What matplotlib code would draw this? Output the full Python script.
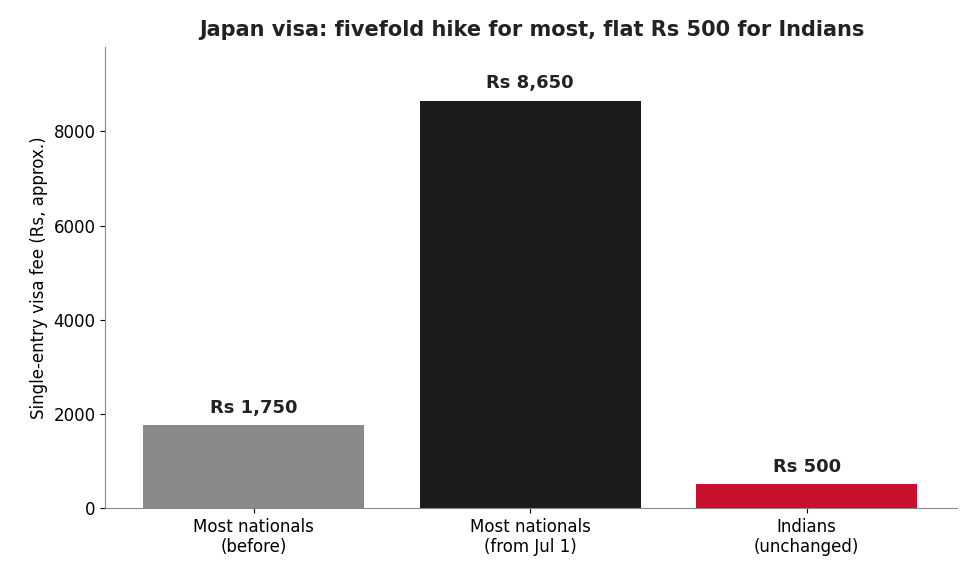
import matplotlib
matplotlib.use("Agg")
import matplotlib.pyplot as plt

categories = ["Most nationals\n(before)", "Most nationals\n(from Jul 1)", "Indians\n(unchanged)"]
values = [1750, 8650, 500]
labels = ["Rs 1,750", "Rs 8,650", "Rs 500"]
colors = ["#8a8a8a", "#1b1b1b", "#c8102e"]

fig = plt.figure(figsize=(9.75, 5.85), dpi=100)
ax = fig.add_axes([0.108, 0.132, 0.874, 0.788])
x = range(len(values))
bars = ax.bar(x, values, width=0.8, color=colors)
for xi, v, lab in zip(x, values, labels):
    ax.text(xi, v + 180, lab, ha="center", va="bottom", fontsize=13, fontweight="bold", color="#222222")
ax.set_xticks(list(x))
ax.set_xticklabels(categories, fontsize=12)
ax.tick_params(axis="y", labelsize=12)
ax.set_ylim(0, 9800)
ax.set_xlim(-0.537, 2.545)
ax.set_yticks([0, 2000, 4000, 6000, 8000])
ax.set_ylabel("Single-entry visa fee (Rs, approx.)", fontsize=12)
ax.set_title("Japan visa: fivefold hike for most, flat Rs 500 for Indians", fontsize=15, fontweight="bold", color="#222222", pad=8)
for s in ["top", "right"]:
    ax.spines[s].set_visible(False)
for s in ["left", "bottom"]:
    ax.spines[s].set_color("#888888")
fig.savefig("out.png", dpi=100)
